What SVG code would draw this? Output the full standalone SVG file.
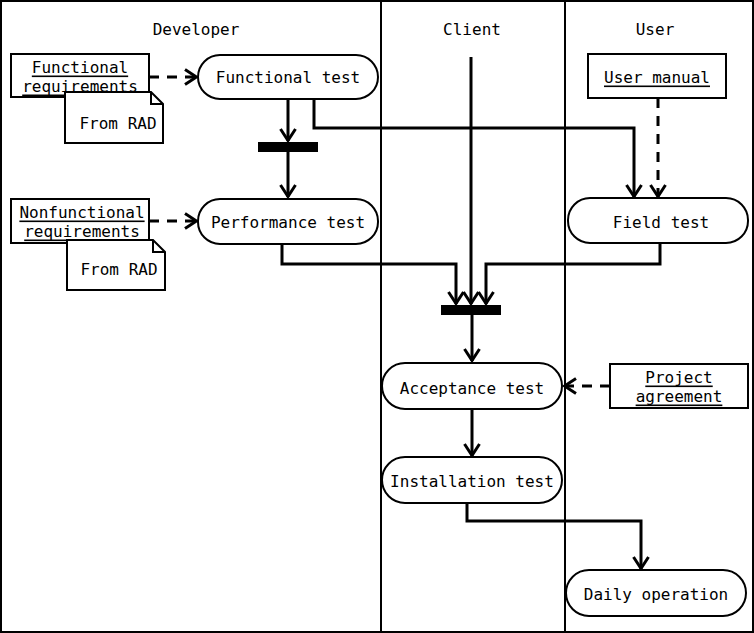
<svg xmlns="http://www.w3.org/2000/svg" width="754" height="633" viewBox="0 0 754 633">
<defs>
<style>
text{font-family:"DejaVu Sans Mono","Liberation Mono",monospace;font-size:16px;fill:#000;text-anchor:middle;dominant-baseline:central}
.u{text-decoration:underline}
.act{fill:#fff;stroke:#000;stroke-width:2}
.obj{fill:#fff;stroke:#000;stroke-width:2}
.ln{fill:none;stroke:#000;stroke-width:3}
.dash{fill:none;stroke:#000;stroke-width:3;stroke-dasharray:10 8}
.lane{fill:none;stroke:#000;stroke-width:2}
</style>
<marker id="ah" markerUnits="userSpaceOnUse" viewBox="0 0 14 18" markerWidth="14" markerHeight="18" refX="13" refY="9" orient="auto">
<path d="M1,1.5 L12.5,9 L1,16.5" fill="none" stroke="#000" stroke-width="3"/>
</marker>
</defs>
<rect width="754" height="633" fill="#fff"/>
<g id="lanes">
<rect x="1" y="1" width="752" height="631" class="lane"/>
<line x1="381" y1="0" x2="381" y2="633" class="lane"/>
<line x1="565" y1="0" x2="565" y2="633" class="lane"/>
<text x="196" y="29">Developer</text>
<text x="472" y="29">Client</text>
<text x="655" y="29">User</text>
</g>
<g id="connectors">
<line x1="149" y1="77" x2="197" y2="77" class="dash" marker-end="url(#ah)"/>
<line x1="149" y1="221" x2="197" y2="221" class="dash" marker-end="url(#ah)"/>
<line x1="658" y1="98" x2="658" y2="197" class="dash" marker-end="url(#ah)"/>
<line x1="610" y1="386" x2="564" y2="386" class="dash" marker-end="url(#ah)"/>
<line x1="288" y1="99" x2="288" y2="141" class="ln" marker-end="url(#ah)"/>
<line x1="288" y1="152" x2="288" y2="197" class="ln" marker-end="url(#ah)"/>
<polyline points="314,99 314,128 634,128 634,197" class="ln" marker-end="url(#ah)"/>
<polyline points="282,244 282,264 456,264 456,304" class="ln" marker-end="url(#ah)"/>
<line x1="471" y1="57" x2="471" y2="304" class="ln" marker-end="url(#ah)"/>
<polyline points="660,243 660,264 486,264 486,304" class="ln" marker-end="url(#ah)"/>
<line x1="472" y1="315" x2="472" y2="361" class="ln" marker-end="url(#ah)"/>
<line x1="472" y1="409" x2="472" y2="456" class="ln" marker-end="url(#ah)"/>
<polyline points="467,503 467,521 641,521 641,569" class="ln" marker-end="url(#ah)"/>
</g>
<g id="bar1"><rect x="258" y="142" width="60" height="10" fill="#000"/></g>
<g id="bar2"><rect x="441" y="305" width="60" height="10" fill="#000"/></g>
<g id="functional-requirements">
<rect x="11" y="54" width="138" height="43" class="obj"/>
<text x="80" y="67" class="u">Functional</text>
<text x="80" y="86" class="u">requirements</text>
</g>
<g id="note1">
<path d="M65,92 H151 L163,104 V143 H65 Z" class="obj"/>
<path d="M151,92 V104 H163" fill="none" stroke="#000" stroke-width="2"/>
<text x="118" y="123">From RAD</text>
</g>
<g id="nonfunctional-requirements">
<rect x="11" y="199" width="138" height="44" class="obj"/>
<text x="82" y="212" class="u">Nonfunctional</text>
<text x="82" y="231" class="u">requirements</text>
</g>
<g id="note2">
<path d="M67,240 H153 L165,252 V290 H67 Z" class="obj"/>
<path d="M153,240 V252 H165" fill="none" stroke="#000" stroke-width="2"/>
<text x="119" y="269">From RAD</text>
</g>
<g id="functional-test">
<rect x="198" y="55" width="180" height="44" rx="22" class="act"/>
<text x="288" y="77">Functional test</text>
</g>
<g id="performance-test">
<rect x="198" y="199" width="180" height="45" rx="22" class="act"/>
<text x="288" y="222">Performance test</text>
</g>
<g id="user-manual">
<rect x="588" y="54" width="138" height="44" class="obj"/>
<text x="657" y="77" class="u">User manual</text>
</g>
<g id="field-test">
<rect x="568" y="198" width="180" height="45" rx="22" class="act"/>
<text x="661" y="222">Field test</text>
</g>
<g id="acceptance-test">
<rect x="382" y="363" width="180" height="46" rx="23" class="act"/>
<text x="472" y="388">Acceptance test</text>
</g>
<g id="project-agreement">
<rect x="610" y="364" width="138" height="44" class="obj"/>
<text x="679" y="377" class="u">Project</text>
<text x="679" y="396" class="u">agreement</text>
</g>
<g id="installation-test">
<rect x="382" y="457" width="180" height="46" rx="23" class="act"/>
<text x="472" y="481">Installation test</text>
</g>
<g id="daily-operation">
<rect x="566" y="570" width="180" height="46" rx="23" class="act"/>
<text x="656" y="594">Daily operation</text>
</g>
</svg>
